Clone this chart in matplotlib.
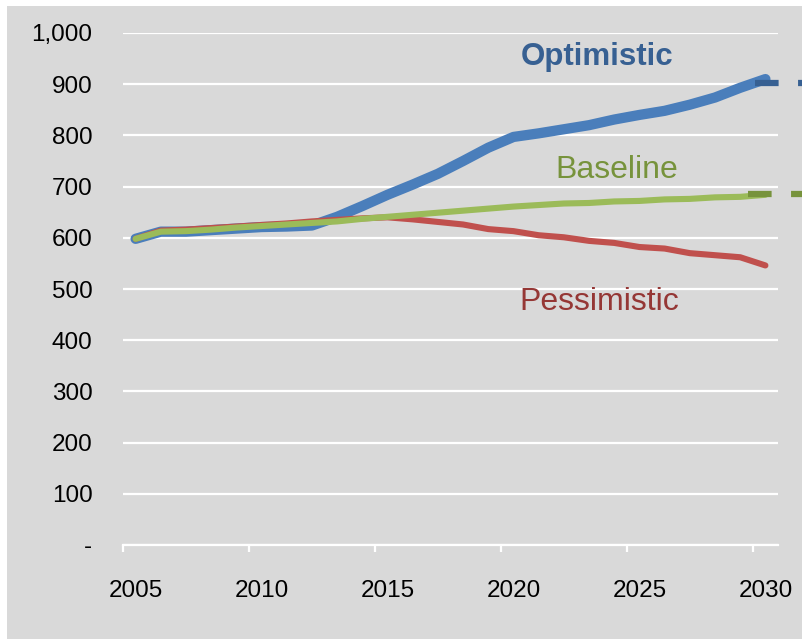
import matplotlib

matplotlib.use("Agg")
import matplotlib.pyplot as plt
from matplotlib.patches import Rectangle
from matplotlib.ticker import FixedLocator, FuncFormatter

plt.rcParams["font.family"] = ["Liberation Sans", "DejaVu Sans"]
plt.rcParams["lines.scale_dashes"] = False

years = list(range(2005, 2031))
optimistic = [598, 612, 612, 615, 618, 621, 622, 624, 641, 662, 684, 704, 725,
              750, 776, 797, 804, 812, 820, 831, 840, 848, 860, 874, 893, 910]
baseline = [598, 612, 613, 616, 620, 623, 626, 629, 632, 637, 641, 645, 649,
            653, 657, 661, 664, 667, 668, 671, 672, 675, 676, 679, 680, 684]
pessimistic = [598, 614, 616, 619, 622, 625, 628, 632, 635, 638, 640, 636, 631,
               626, 617, 613, 605, 601, 594, 590, 582, 579, 570, 566, 562, 546]
# 2030 targets shown as dashes past the plot edge
target_optimistic = 902
target_baseline = 686

BG = "#d9d9d9"
BLUE = "#4a7ebb"
GREEN = "#9bbb59"
RED = "#c0504d"

fig = plt.figure(figsize=(8.02, 6.39), dpi=100, facecolor="white")
fig.patches.append(Rectangle((7 / 802, 0.5 / 639), 1, 1 - 6.5 / 639,
                             transform=fig.transFigure, facecolor=BG,
                             edgecolor="none", zorder=-10))
ax = fig.add_axes([123 / 802, 1 - 545 / 639, (778 - 123) / 802, (545 - 33) / 639])
ax.set_facecolor(BG)

ax.plot(years, optimistic, color=BLUE, lw=7.4, solid_capstyle="round",
        solid_joinstyle="round", zorder=3)
ax.plot(years, pessimistic, color=RED, lw=4.4, solid_capstyle="round",
        solid_joinstyle="round", zorder=4)
ax.plot(years, baseline, color=GREEN, lw=4.4, solid_capstyle="round",
        solid_joinstyle="round", zorder=5)

ax.plot([2029.6, 2031.6], [target_optimistic] * 2, color="#376092", lw=4.5,
        dashes=(17, 14), dash_capstyle="butt", clip_on=False, zorder=6)
ax.plot([2029.3, 2031.6], [target_baseline] * 2, color="#77933c", lw=4.5,
        dashes=(17, 14), dash_capstyle="butt", clip_on=False, zorder=6)

ax.text(2023.3, 938, "Optimistic", color="#376092", fontsize=22.5,
        fontweight="bold", ha="center", va="baseline")
ax.text(2024.1, 717, "Baseline", color="#77933c", fontsize=23,
        ha="center", va="baseline")
ax.text(2023.4, 459, "Pessimistic", color="#953735", fontsize=23,
        ha="center", va="baseline")

ax.set_xlim(2004.5, 2030.5)
ax.set_ylim(0, 1000)
ax.set_yticks(range(0, 1001, 100))
ax.yaxis.set_major_formatter(FuncFormatter(lambda v, p: "-" if v == 0 else f"{int(v):,}"))
ax.grid(axis="y", color="white", lw=1.6)
ax.set_axisbelow(True)

ax.xaxis.set_major_locator(FixedLocator([2004.5, 2009.5, 2014.5, 2019.5, 2024.5, 2029.5]))
ax.xaxis.set_major_formatter(FuncFormatter(lambda v, p: ""))
ax.xaxis.set_minor_locator(FixedLocator([2005, 2010, 2015, 2020, 2025, 2030]))
ax.xaxis.set_minor_formatter(FuncFormatter(lambda v, p: f"{int(v)}"))
ax.tick_params(axis="x", which="major", direction="out", length=5, width=1.6, color="white")
ax.tick_params(axis="x", which="minor", length=0, pad=25, labelsize=17.5)
ax.tick_params(axis="y", length=0, pad=22, labelsize=17.5)

for side in ("left", "right", "top"):
    ax.spines[side].set_visible(False)
ax.spines["bottom"].set_color("white")
ax.spines["bottom"].set_linewidth(1.6)

fig.savefig("out.png", dpi=100, facecolor=fig.get_facecolor())
